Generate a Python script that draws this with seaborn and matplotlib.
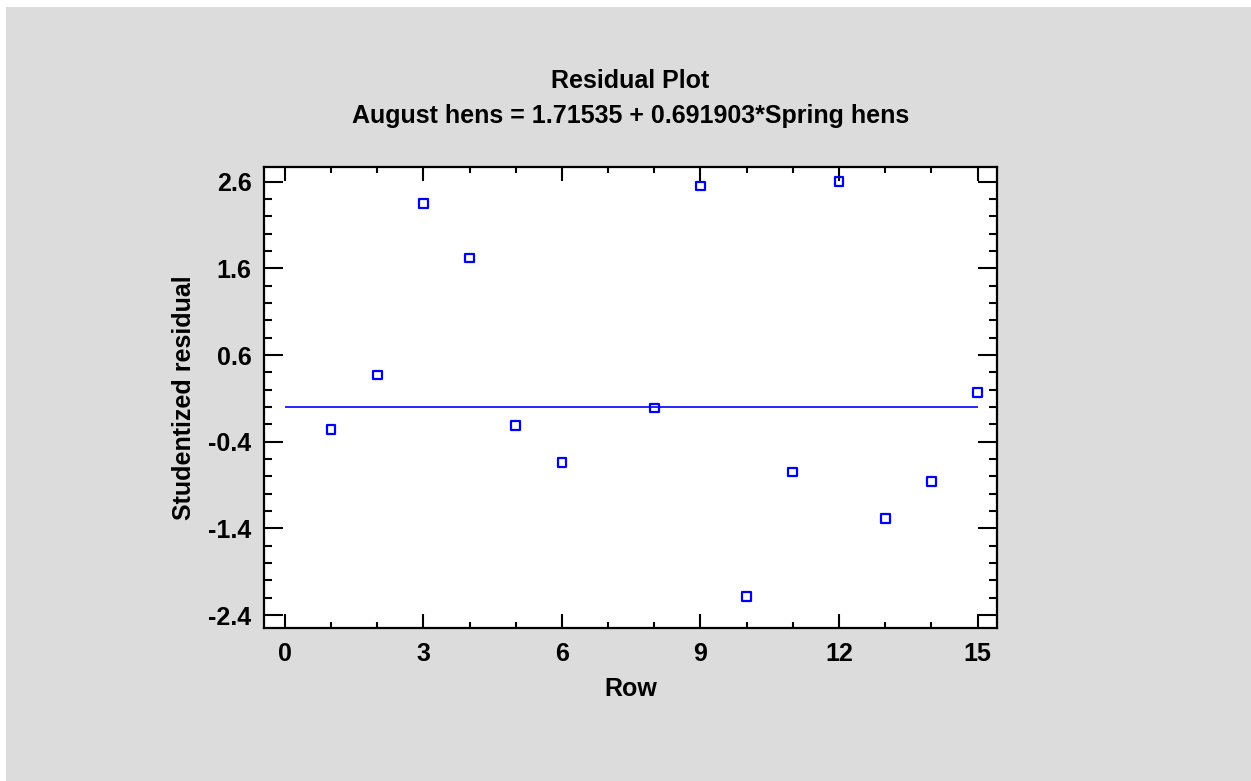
import numpy as np
import pandas as pd
import matplotlib
matplotlib.use("Agg")
import matplotlib.pyplot as plt
import seaborn as sns
from matplotlib.patches import Rectangle
from matplotlib.ticker import MultipleLocator

# Data
rows = [1, 2, 3, 4, 5, 6, 8, 9, 10, 11, 12, 13, 14, 15]
residuals = [-0.26, 0.37, 2.35, 1.72, -0.21, -0.64, -0.01, 2.55, -2.19,
             -0.75, 2.60, -1.29, -0.86, 0.17]
x_ticks = [0, 3, 6, 9, 12, 15]
y_ticks = [-2.4, -1.4, -0.4, 0.6, 1.6, 2.6]

title = "Residual Plot\nAugust hens = 1.71535 + 0.691903*Spring hens"

df = pd.DataFrame({"Row": rows, "Studentized residual": residuals})

sns.set_style("ticks")
plt.rcParams['font.family'] = ['Liberation Sans', 'DejaVu Sans']
plt.rcParams['font.weight'] = 'bold'
plt.rcParams['text.color'] = 'black'
plt.rcParams['axes.labelcolor'] = 'black'
plt.rcParams['xtick.color'] = 'black'
plt.rcParams['ytick.color'] = 'black'

fig = plt.figure(figsize=(12.51, 7.81), dpi=100)
fig.patch.set_facecolor("white")
# gray panel, leaving a thin white strip on the top and left
fig.patches.append(Rectangle((6 / 1251, 0), 1, 1 - 7 / 781,
                             transform=fig.transFigure, facecolor="#dcdcdc",
                             edgecolor="none", zorder=-10))

ax = fig.add_axes([0.2110, 0.1955, 0.5860, 0.5903])
ax.set_facecolor("white")

ax.hlines(0, 0, 15, color="#0000ff", linewidth=1.2, zorder=2)
sns.scatterplot(data=df, x="Row", y="Studentized residual", marker="s",
                s=40, facecolor="none", edgecolor="#0000ff", linewidth=1.6,
                ax=ax, zorder=3)

ax.set_xlim(-0.45, 15.42)
ax.set_ylim(-2.553, 2.766)
ax.set_xticks(x_ticks)
ax.set_yticks(y_ticks)
ax.set_yticklabels([f"{v:.1f}" for v in y_ticks])
ax.xaxis.set_minor_locator(MultipleLocator(1))
ax.yaxis.set_minor_locator(MultipleLocator(0.2))

ax.tick_params(which="both", direction="in", top=True, right=True,
               color="black", labelcolor="black", labelsize=18)
ax.tick_params(axis="x", which="major", length=10, width=1.5, pad=10)
ax.tick_params(axis="x", which="minor", length=4, width=1.5)
ax.tick_params(axis="y", which="major", length=14, width=1.5, pad=9)
ax.tick_params(axis="y", which="minor", length=6, width=1.5)
for lab in ax.get_xticklabels() + ax.get_yticklabels():
    lab.set_fontweight("bold")

for sp in ax.spines.values():
    sp.set_visible(True)
    sp.set_linewidth(1.6)
    sp.set_color("black")

ax.set_xlabel("Row", fontsize=18, fontweight="bold", labelpad=8)
ax.set_ylabel("Studentized residual", fontsize=18, fontweight="bold", labelpad=9)
ax.set_title(title, fontsize=18, fontweight="bold", pad=32, linespacing=1.55)

fig.savefig("out.png", dpi=100)
